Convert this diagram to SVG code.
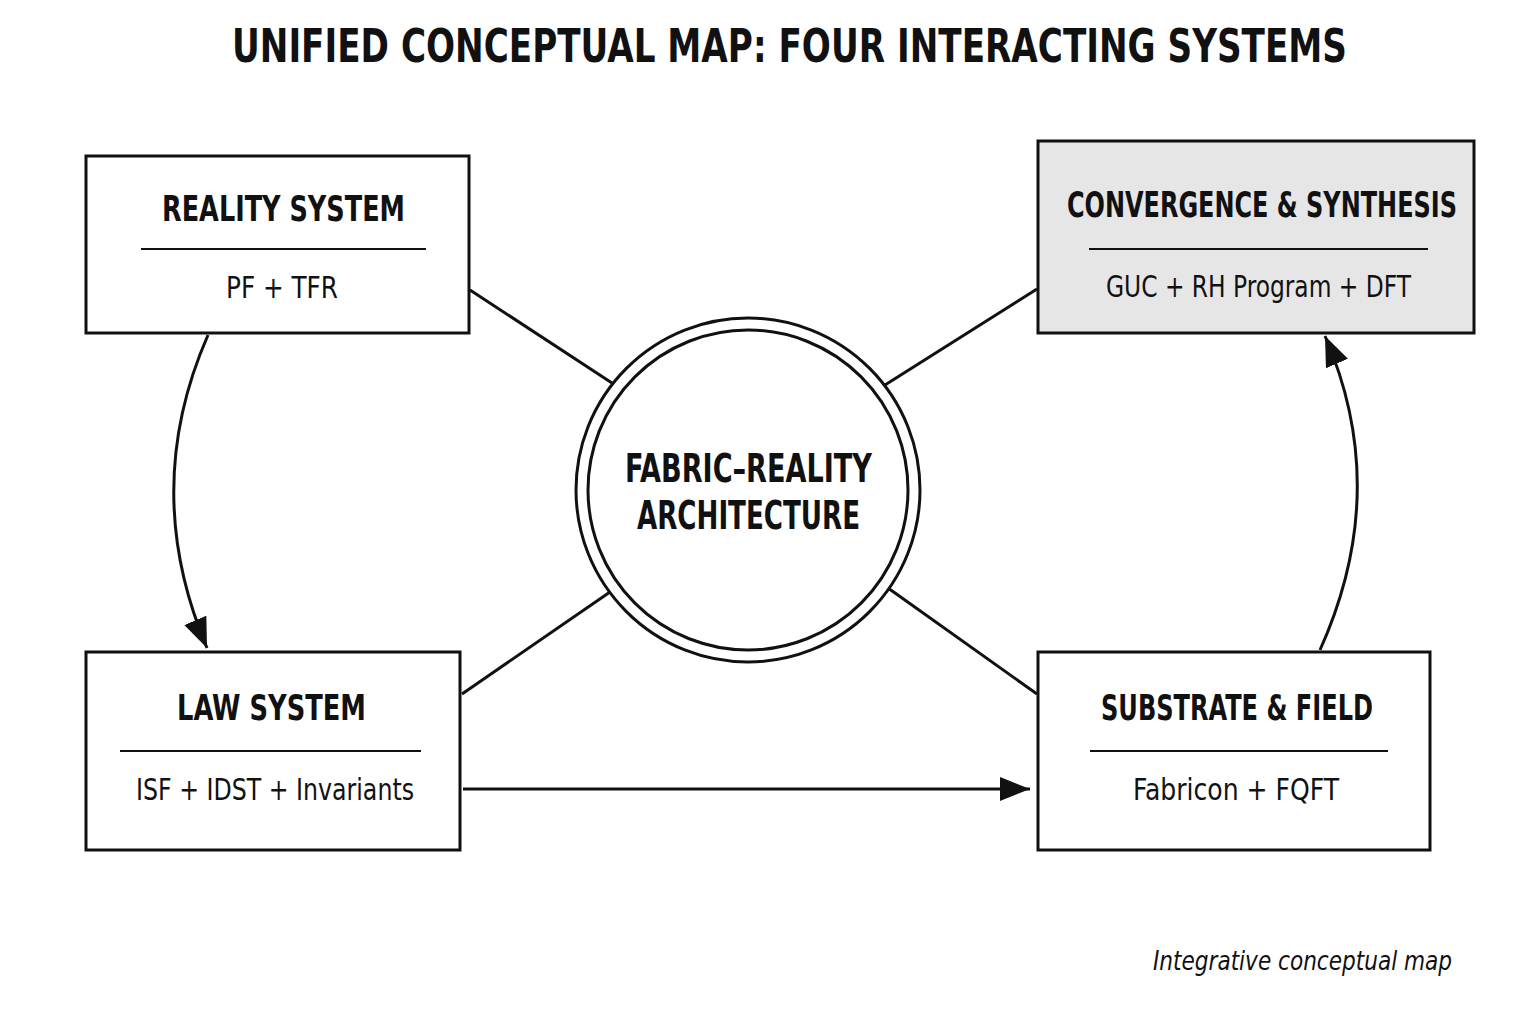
<svg xmlns="http://www.w3.org/2000/svg" width="1536" height="1024" viewBox="0 0 1536 1024">
<style>
text{font-family:"DejaVu Sans Condensed","Roboto",sans-serif;fill:#111;text-anchor:middle}
.title{font-size:46px;font-weight:bold}
.h{font-size:36px;font-weight:bold}
.s{font-size:30px}
.c{font-size:39px;font-weight:bold}
.box{fill:#fff;stroke:#111;stroke-width:3}
.rule{stroke:#111;stroke-width:2}
.ln{stroke:#111;stroke-width:3;fill:none}
</style>
<defs>
<marker id="arr" viewBox="0 0 30 24" refX="30" refY="12" markerWidth="30" markerHeight="24" markerUnits="userSpaceOnUse" orient="auto">
<path d="M0,0 L30,12 L0,24 Z" fill="#111"/>
</marker>
</defs>
<rect width="1536" height="1024" fill="#fff"/>
<text class="title" x="789.5" y="62" textLength="1115" lengthAdjust="spacingAndGlyphs">UNIFIED CONCEPTUAL MAP: FOUR INTERACTING SYSTEMS</text>
<g id="connectors">
<line class="ln" x1="470" y1="290" x2="612" y2="383"/>
<line class="ln" x1="1037" y1="289" x2="885" y2="385"/>
<line class="ln" x1="462" y1="694" x2="610" y2="592"/>
<line class="ln" x1="1037" y1="694" x2="888" y2="588"/>
<path class="ln" d="M208,335 Q140,490 207,648" marker-end="url(#arr)"/>
<line class="ln" x1="463" y1="789" x2="1030" y2="789" marker-end="url(#arr)"/>
<path class="ln" d="M1320,650 Q1392,490 1325,336" marker-end="url(#arr)"/>
</g>
<g id="reality">
<rect class="box" x="86" y="156" width="383" height="177"/>
<text class="h" x="283.5" y="221" textLength="243" lengthAdjust="spacingAndGlyphs">REALITY SYSTEM</text>
<line class="rule" x1="141" y1="249" x2="426" y2="249"/>
<text class="s" x="282" y="298" textLength="112" lengthAdjust="spacingAndGlyphs">PF + TFR</text>
</g>
<g id="convergence">
<rect class="box" x="1038" y="141" width="436" height="192" style="fill:#e6e6e6"/>
<text class="h" x="1262" y="217" textLength="390" lengthAdjust="spacingAndGlyphs">CONVERGENCE &amp; SYNTHESIS</text>
<line class="rule" x1="1089" y1="249" x2="1428" y2="249"/>
<text class="s" x="1258.5" y="297" textLength="305" lengthAdjust="spacingAndGlyphs">GUC + RH Program + DFT</text>
</g>
<g id="law">
<rect class="box" x="86" y="652" width="374" height="198"/>
<text class="h" x="271.5" y="720" textLength="189" lengthAdjust="spacingAndGlyphs">LAW SYSTEM</text>
<line class="rule" x1="120" y1="751" x2="421" y2="751"/>
<text class="s" x="275" y="800" textLength="278" lengthAdjust="spacingAndGlyphs">ISF + IDST + Invariants</text>
</g>
<g id="substrate">
<rect class="box" x="1038" y="652" width="392" height="198"/>
<text class="h" x="1237" y="720" textLength="272" lengthAdjust="spacingAndGlyphs">SUBSTRATE &amp; FIELD</text>
<line class="rule" x1="1090" y1="751" x2="1388" y2="751"/>
<text class="s" x="1236" y="800" textLength="206" lengthAdjust="spacingAndGlyphs">Fabricon + FQFT</text>
</g>
<g id="center">
<circle cx="748" cy="490" r="172" fill="#fff" stroke="#111" stroke-width="3"/>
<circle cx="748" cy="490" r="160" fill="none" stroke="#111" stroke-width="3"/>
<text class="c" x="748.5" y="482" textLength="247" lengthAdjust="spacingAndGlyphs">FABRIC–REALITY</text>
<text class="c" x="748.5" y="529" textLength="223" lengthAdjust="spacingAndGlyphs">ARCHITECTURE</text>
</g>
<text x="1452" y="970" textLength="299" lengthAdjust="spacingAndGlyphs" style="font-size:27px;font-style:italic;text-anchor:end">Integrative conceptual map</text>
</svg>
